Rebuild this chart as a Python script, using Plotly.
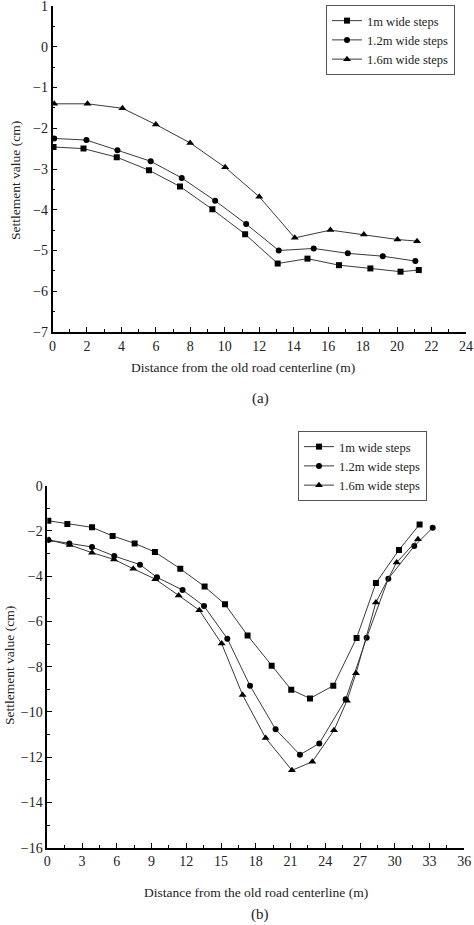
import plotly.graph_objects as go
from plotly.subplots import make_subplots

# (a) values
a_x_1m = [0.06, 1.8, 3.73, 5.6, 7.4, 9.28, 11.18, 13.07, 14.8, 16.63, 18.45, 20.2, 21.26]
a_y_1m = [-2.46, -2.50, -2.71, -3.03, -3.43, -3.99, -4.60, -5.32, -5.20, -5.36, -5.44, -5.52, -5.48]
a_x_12m = [0.1, 1.97, 3.77, 5.7, 7.5, 9.44, 11.24, 13.13, 15.16, 17.14, 19.17, 21.06]
a_y_12m = [-2.25, -2.29, -2.54, -2.81, -3.22, -3.78, -4.35, -5.00, -4.95, -5.07, -5.14, -5.26]
a_x_16m = [0.1, 2.03, 4.06, 6.0, 7.99, 10.02, 12.0, 14.06, 16.13, 18.07, 20.02, 21.16]
a_y_16m = [-1.40, -1.40, -1.51, -1.91, -2.36, -2.96, -3.68, -4.69, -4.50, -4.61, -4.73, -4.77]

# (b)
b_x_1m = [0.09, 1.73, 3.86, 5.64, 7.54, 9.29, 11.48, 13.58, 15.34, 17.29, 19.37, 21.06,
          22.68, 24.69, 26.7, 28.37, 30.36, 32.14]
b_y_1m = [-1.55, -1.69, -1.84, -2.22, -2.55, -2.93, -3.67, -4.46, -5.24, -6.62, -7.96, -9.02,
          -9.40, -8.84, -6.73, -4.30, -2.84, -1.71]
b_x_12m = [0.09, 1.9, 3.86, 5.78, 8.0, 9.47, 11.68, 13.53, 15.54, 17.5, 19.71, 21.81,
           23.48, 25.76, 27.57, 29.44, 31.68, 33.27]
b_y_12m = [-2.40, -2.55, -2.71, -3.11, -3.49, -4.05, -4.61, -5.32, -6.76, -8.84, -10.77, -11.89,
           -11.39, -9.44, -6.72, -4.11, -2.67, -1.86]
b_x_16m = [0.14, 1.93, 3.86, 5.76, 7.42, 9.32, 11.34, 13.12, 15.05, 16.86, 18.85, 21.12,
           22.88, 24.75, 25.87, 26.65, 28.37, 30.16, 32.0]
b_y_16m = [-2.40, -2.62, -2.96, -3.26, -3.67, -4.13, -4.85, -5.50, -6.98, -9.25, -11.15, -12.58,
           -12.20, -10.81, -9.50, -8.29, -5.16, -3.39, -2.37]

names = ["1m wide steps", "1.2m wide steps", "1.6m wide steps"]
symbols = ["square", "circle", "triangle-up"]
sizes = [6, 6, 7]

FONT = "Liberation Serif, Times New Roman, serif"
LINE = "#3a3a3a"

fig = make_subplots(rows=2, cols=1)

a_sets = [(a_x_1m, a_y_1m), (a_x_12m, a_y_12m), (a_x_16m, a_y_16m)]
b_sets = [(b_x_1m, b_y_1m), (b_x_12m, b_y_12m), (b_x_16m, b_y_16m)]

for i, (xs, ys) in enumerate(a_sets):
    fig.add_trace(go.Scatter(x=xs, y=ys, mode="lines+markers", name=names[i],
                             line=dict(color=LINE, width=1),
                             marker=dict(symbol=symbols[i], size=sizes[i], color="black"),
                             legend="legend"), row=1, col=1)
for i, (xs, ys) in enumerate(b_sets):
    fig.add_trace(go.Scatter(x=xs, y=ys, mode="lines+markers", name=names[i],
                             line=dict(color=LINE, width=1),
                             marker=dict(symbol=symbols[i], size=sizes[i], color="black"),
                             legend="legend2"), row=2, col=1)

W, H = 474, 925

def px_x(p):
    return p / W

def px_y(p):
    return 1 - p / H

axis_common = dict(showline=True, linecolor="black", linewidth=1.5, ticks="inside",
                   ticklen=5, tickwidth=1.2, tickcolor="black", showgrid=False,
                   zeroline=False, tickfont=dict(family=FONT, size=14, color="#222"),
                   mirror=False, automargin=False, ticklabeloverflow="allow")

fig.update_xaxes(axis_common)
fig.update_yaxes(axis_common)

fig.update_xaxes(row=1, col=1, range=[0, 24], dtick=2, domain=[px_x(52.5), px_x(466)],
                 minor=dict(dtick=1, ticks="inside", ticklen=3, tickcolor="black"))
fig.update_yaxes(row=1, col=1, range=[-7, 1], dtick=1, domain=[px_y(332), px_y(6)],
                 minor=dict(dtick=0.5, ticks="inside", ticklen=3, tickcolor="black"))
fig.update_xaxes(row=2, col=1, range=[0, 36], dtick=3, domain=[px_x(47.3), px_x(464.3)],
                 minor=dict(dtick=1.5, ticks="inside", ticklen=3, tickcolor="black"))
fig.update_yaxes(row=2, col=1, range=[-16, 0], dtick=2, domain=[px_y(847.7), px_y(485.7)],
                 minor=dict(dtick=1, ticks="inside", ticklen=3, tickcolor="black"))

legend_style = dict(bordercolor="#555", borderwidth=1, bgcolor="white",
                    font=dict(family=FONT, size=12.5, color="#222"),
                    xanchor="right", yanchor="top", tracegroupgap=0, itemwidth=30)

fig.update_layout(
    width=W, height=H,
    margin=dict(l=0, r=0, t=0, b=0, autoexpand=False),
    paper_bgcolor="white", plot_bgcolor="white",
    font=dict(family=FONT, color="#222"),
    legend=dict(legend_style, x=px_x(455), y=px_y(5)),
    legend2=dict(legend_style, x=px_x(427), y=px_y(431)),
)

xt = "Distance from the old road centerline (m)"
yt = "Settlement value (cm)"
ann = [
    dict(x=px_x(243), y=px_y(368), text=xt, font=dict(size=13.5)),
    dict(x=px_x(260), y=px_y(398), text="(a)", font=dict(size=15)),
    dict(x=px_x(15), y=px_y(181), text=yt, textangle=-90, font=dict(size=13.5)),
    dict(x=px_x(256), y=px_y(892), text=xt, font=dict(size=13.5)),
    dict(x=px_x(260), y=px_y(914), text="(b)", font=dict(size=15)),
    dict(x=px_x(9), y=px_y(666), text=yt, textangle=-90, font=dict(size=13.5)),
]
for a in ann:
    fig.add_annotation(xref="paper", yref="paper", showarrow=False,
                       xanchor="center", yanchor="middle",
                       font=dict(family=FONT, color="#222", size=a["font"]["size"]),
                       **{k: v for k, v in a.items() if k != "font"})

# the page body has a default 8px margin; drop it so the figure sits at 0,0
fig.write_html("out.html", config={"displayModeBar": False},
               post_script="document.body.style.margin='0';document.body.style.overflow='hidden';")
